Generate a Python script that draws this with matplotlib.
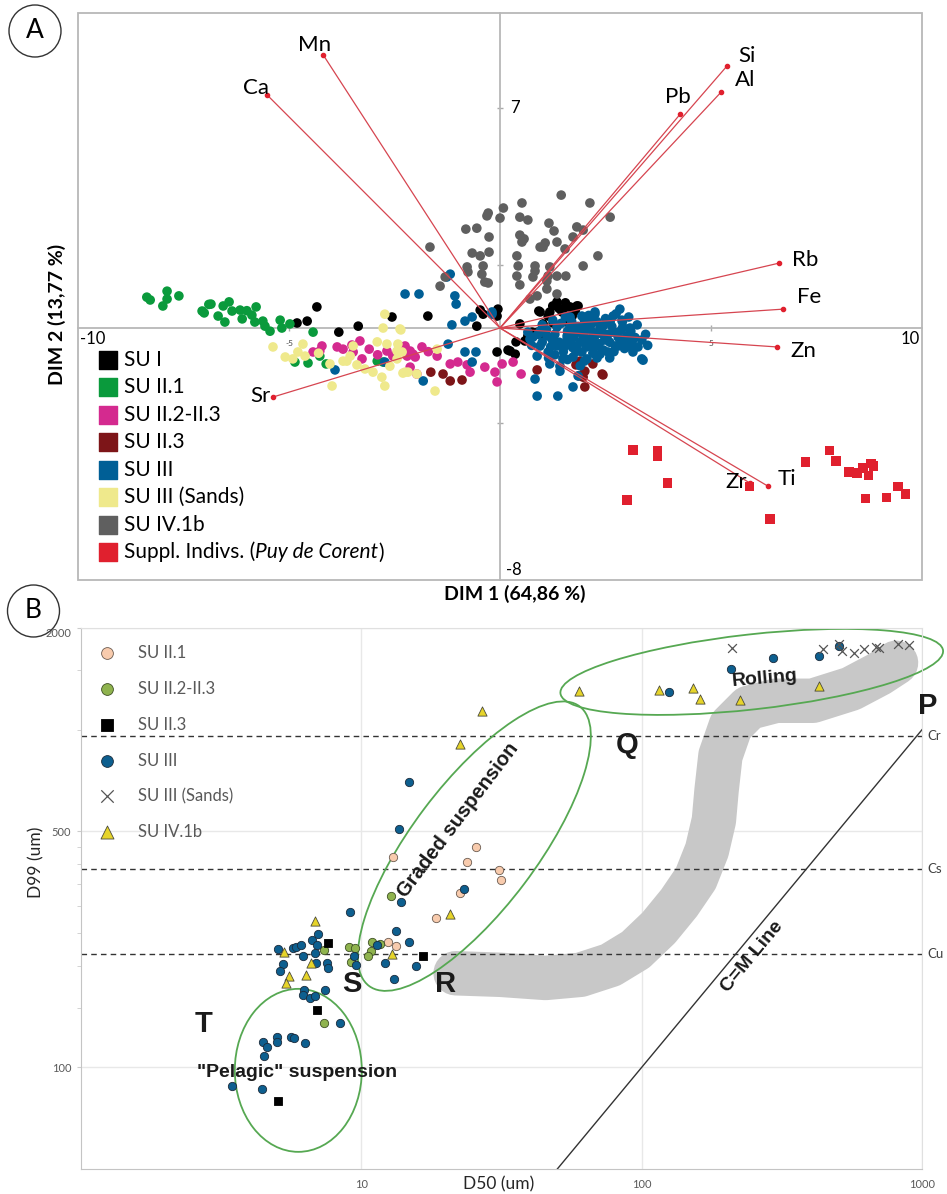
import numpy as np
import matplotlib
matplotlib.use("Agg")
import matplotlib.pyplot as plt
import matplotlib.transforms as mtransforms
from matplotlib.patches import Ellipse, Circle, Rectangle
from matplotlib.ticker import FixedLocator, NullFormatter, NullLocator

plt.rcParams['font.family'] = ['Lato', 'DejaVu Sans']

# ---------------- Panel A: PCA biplot (DIM 1 / DIM 2) ----------------
su1_pts = [(-1.71, 0.38), (-0.47, 0.57), (-0.40, 0.44), (-0.05, 0.60), (-0.07, 0.38), (-0.55, 0.06),
           (0.92, 0.54), (1.35, 0.83), (1.59, 0.67), (1.82, 0.70), (1.47, 0.51), (1.71, 0.38),
           (1.14, 0.38), (1.02, 0.13), (1.26, 0.16), (0.47, 0.13), (0.90, -0.13), (0.66, -0.25),
           (1.02, -0.19), (0.59, -0.41), (0.38, -0.44), (-0.07, -0.76), (0.19, -0.70), (0.36, -0.83),
           (1.61, 0.35), (1.78, 0.54), (1.59, 0.19), (-4.34, 0.67), (-4.57, 0.22), (-4.81, 0.16),
           (-3.82, -0.13), (-3.36, 0.06), (-2.56, 0.35), (0.24, -0.73), (0.76, -0.13), (1.66, 0.67),
           (1.85, 0.70), (1.18, 0.51), (0.95, 0.51), (1.40, 0.62), (1.55, 0.80), (1.25, 0.70)]
su21_pts = [(-8.37, 0.98), (-8.29, 0.89), (-7.89, 1.17), (-7.89, 0.92), (-7.61, 1.02), (-7.99, 0.70),
            (-7.06, 0.54), (-7.01, 0.48), (-6.85, 0.76), (-6.68, 0.38), (-6.56, 0.70), (-6.42, 0.83),
            (-6.35, 0.54), (-6.52, 0.19), (-6.16, 0.57), (-6.11, 0.29), (-5.88, 0.41), (-5.78, 0.67),
            (-5.81, 0.19), (-5.62, 0.22), (-5.57, 0.06), (-5.45, -0.10), (-5.21, 0.25), (-5.17, 0.0),
            (-4.98, 0.13), (-4.43, -0.13), (-4.86, -1.08), (-4.55, -1.11), (-4.27, -0.89),
            (-4.12, -1.14), (-2.91, -1.05), (-2.77, -1.08), (-6.90, 0.75), (-6.00, 0.55)]
su22_pts = [(-4.43, -0.76), (-4.22, -0.57), (-4.27, -0.73), (-3.86, -0.60), (-3.72, -0.67),
            (-3.51, -0.54), (-3.32, -0.41), (-3.48, -0.76), (-3.10, -0.67), (-2.68, -0.73),
            (-2.54, -0.89), (-2.25, -0.57), (-2.13, -0.73), (-2.06, -0.83), (-1.85, -0.60),
            (-2.13, -1.24), (-1.97, -1.46), (-3.27, -0.98), (-1.49, -0.89), (-1.18, -1.14),
            (-1.00, -1.08), (-0.71, -1.40), (-0.78, -1.17), (-2.20, -0.89), (-2.01, -0.92),
            (-0.36, -1.24), (-0.12, -1.40), (-0.07, -1.71), (0.05, -1.14), (0.31, -1.08),
            (0.50, -1.46), (-2.90, -0.85), (-1.70, -0.75)]
su23_pts = [(-1.64, -1.40), (-1.35, -1.46), (-1.18, -1.68), (-0.90, -1.65), (0.88, -1.33),
            (2.01, -1.37), (1.97, -1.56), (2.42, -1.46), (2.01, -1.87), (1.90, -1.05),
            (1.80, -1.17), (2.20, -1.14), (2.44, -1.49), (1.87, -1.52)]
su3_pts = [(-2.25, 1.08), (-1.92, 1.08), (-3.91, -1.33), (-2.73, -1.08), (-1.82, -1.68), (-1.18, 1.71),
           (-1.26, 1.62), (-1.07, 1.02), (-1.04, 0.76), (-1.14, 0.10), (-0.83, 0.22), (-0.66, 0.35),
           (-0.19, 0.44), (-1.23, -0.51), (-0.83, -0.76), (-0.57, -0.76), (-0.66, -1.08), (-0.19, 0.51),
           (2.25, 0.51), (2.84, 0.60), (2.01, 0.32), (2.89, 0.25), (3.08, 0.0), (3.36, -0.38),
           (3.39, -1.02), (3.13, -0.63), (0.88, -2.16), (1.37, -2.16), (1.73, -1.87), (0.83, -1.62),
           (1.18, -1.14), (1.42, -1.37), (1.85, -1.52), (0.71, -0.35), (0.95, -0.10), (1.59, -0.35),
           (1.26, -0.44), (0.66, -0.13), (0.78, -0.29), (0.95, -0.57), (1.23, -0.35), (1.35, -0.57),
           (1.49, -0.98), (1.59, -0.25), (1.66, 0.06), (1.82, -0.57), (1.97, -0.35), (2.01, 0.06),
           (2.20, -0.13), (2.30, -0.57), (2.44, 0.06), (2.54, -0.35), (2.68, -0.13), (2.80, -0.57),
           (2.91, 0.03), (3.15, -0.76), (3.36, -0.98), (1.94, -0.76), (1.73, -0.92), (2.06, -0.98),
           (2.37, -0.83), (2.56, -0.76), (1.66, 0.35), (1.94, 0.38), (2.25, 0.44), (2.61, 0.19),
           (1.35, 0.03), (1.11, -0.25), (1.14, -0.76), (1.42, -1.21), (2.18, 0.29), (2.42, -0.19),
           (2.80, -0.29), (3.13, -0.44), (3.27, -0.60), (2.18, -0.41), (1.54, -0.57), (1.78, -0.13),
           (2.01, -0.10), (2.37, 0.03), (2.73, -0.57), (0.88, -0.89), (2.68, 0.38),
           (0.90, -0.20), (1.00, -0.45), (1.10, -0.05), (1.20, -0.60), (1.30, -0.20), (1.40, -0.45),
           (1.45, 0.15), (1.50, -0.75), (1.60, -0.10), (1.65, -0.50), (1.70, 0.20), (1.75, -0.30),
           (1.80, -0.75), (1.85, 0.05), (1.90, -0.45), (1.95, -0.20), (2.00, 0.25), (2.05, -0.60),
           (2.10, -0.35), (2.15, 0.10), (2.20, -0.80), (2.25, -0.25), (2.30, 0.20), (2.35, -0.50),
           (2.40, -0.05), (2.45, -0.70), (2.50, 0.30), (2.55, -0.20), (2.60, -0.45), (2.65, 0.05),
           (2.70, -0.75), (2.75, -0.15), (2.85, -0.45), (2.90, 0.20), (2.95, -0.65), (3.00, -0.25),
           (3.05, 0.35), (3.10, -0.10), (3.20, -0.30), (3.25, 0.10), (1.30, -0.85), (1.60, -1.00),
           (2.00, -1.05), (2.30, -0.95), (1.00, 0.10), (0.75, -0.55), (1.25, 0.25), (2.60, -0.95),
           (3.45, -0.20), (3.50, -0.55), (1.55, 0.35), (2.10, 0.40), (2.75, 0.45), (1.90, -1.20),
           (1.15, -0.95), (2.48, -0.38), (2.22, -0.62), (1.72, -0.62), (2.88, -0.05), (3.02, -0.48)]
su3s_pts = [(-5.38, -0.60), (-5.09, -0.92), (-4.91, -0.98), (-4.67, -0.51), (-4.79, -0.76),
            (-4.62, -0.89), (-4.03, -1.14), (-3.72, -1.05), (-3.55, -0.89), (-3.39, -1.17),
            (-2.91, -0.44), (-2.73, 0.44), (-2.77, 0.0), (-2.68, -0.51), (-2.44, -0.73),
            (-2.35, -0.06), (-2.44, -0.98), (-2.61, -1.21), (-3.01, -1.40), (-2.80, -1.56),
            (-2.30, -1.43), (-2.18, -1.40), (-3.98, -1.84), (-2.73, -1.84), (-1.97, -1.46),
            (-1.54, -2.00), (-2.37, -0.03), (-3.63, -1.05), (-3.48, -0.57), (-2.42, -0.51),
            (-2.32, -0.76), (-2.25, -1.40), (-1.49, -0.67), (-4.30, -0.80), (-3.20, -1.30)]
su4_pts = [(1.45, 4.22), (0.52, 3.97), (2.13, 3.97), (0.08, 3.81), (-0.28, 3.65), (-0.31, 3.56),
           (0.0, 3.49), (0.47, 3.52), (0.66, 3.43), (1.16, 3.33), (2.61, 3.52), (-0.81, 3.14),
           (-0.55, 3.17), (1.28, 3.08), (1.82, 3.21), (1.97, 3.11), (-0.26, 2.89), (0.47, 2.95),
           (0.57, 2.83), (0.52, 2.73), (1.35, 2.73), (1.73, 2.89), (1.07, 2.70), (0.95, 2.57),
           (1.02, 2.57), (1.54, 2.51), (-1.66, 2.57), (-0.66, 2.38), (-0.47, 2.29), (-0.26, 2.41),
           (0.40, 2.29), (2.32, 2.29), (-0.78, 1.94), (-0.76, 1.78), (-0.40, 1.97), (0.43, 1.97),
           (0.83, 1.97), (0.83, 1.81), (1.18, 1.94), (1.97, 1.97), (-0.43, 1.71), (0.40, 1.65),
           (0.78, 1.62), (1.14, 1.65), (1.35, 1.65), (1.56, 1.65), (-0.36, 1.46), (-0.28, 1.43),
           (0.47, 1.37), (1.11, 1.49), (-1.42, 1.33), (-1.30, 1.62), (1.11, 1.24), (0.88, 1.02),
           (1.35, 1.08), (0.71, 0.92)]
suppl_pts = [(3.15, -3.87), (3.74, -3.90), (3.74, -4.06), (3.96, -4.92), (3.01, -5.46), (5.92, -5.02),
             (6.40, -6.06), (7.23, -4.25), (7.80, -3.90), (7.96, -4.22), (8.27, -4.57), (8.46, -4.60),
             (8.60, -4.44), (8.79, -4.29), (8.74, -4.67), (8.86, -4.38), (8.67, -5.40), (9.15, -5.37),
             (9.43, -5.02), (9.60, -5.27)]

elem_names = ['Mn', 'Ca', 'Si', 'Al', 'Pb', 'Rb', 'Fe', 'Zn', 'Ti', 'Zr', 'Sr']
elem_x = [-4.19, -5.52, 5.38, 5.24, 4.27, 6.61, 6.71, 6.56, 6.35, 5.92, -5.38]
elem_y = [8.67, 7.40, 8.32, 7.49, 6.79, 2.06, 0.60, -0.60, -5.02, -4.92, -2.19]
# label offsets (points) from each arrow tip
elem_off = [(-6, 7), (-8, 5), (14, 7), (17, 9), (-2, 12), (19, 2), (19, 9), (19, -3), (14, 5), (-10, 1), (-9, 1)]

groupsA = [
    ('SU I', su1_pts, '#000000'),
    ('SU II.1', su21_pts, '#0a9a3c'),
    ('SU II.2-II.3', su22_pts, '#d42a8f'),
    ('SU II.3', su23_pts, '#7d1518'),
    ('SU III', su3_pts, '#005f96'),
    ('SU III (Sands)', su3s_pts, '#efe98c'),
    ('SU IV.1b', su4_pts, '#5f5f5f'),
]

# ---------------- Panel B: C-M diagram (D50 / D99) ----------------
b_su21 = [(13.0, 419), (25.7, 449), (23.9, 405), (30.9, 384), (31.4, 359), (22.4, 328),
          (18.5, 277), (12.4, 235), (13.3, 229)]
b_su22 = [(7.38, 223), (9.06, 228), (9.52, 226), (9.21, 205), (10.9, 235), (11.7, 232),
          (10.8, 221), (10.6, 214), (12.8, 322), (7.38, 135)]
b_su23 = [(7.62, 234), (6.97, 148), (5.05, 79.4), (16.6, 213)]
b_su3 = [(9.14, 289), (5.05, 224), (5.72, 226), (5.86, 228), (6.11, 231), (6.68, 239), (7.02, 248),
         (6.97, 231), (6.85, 218), (6.21, 213), (5.27, 203), (5.14, 193), (6.91, 204), (7.56, 204),
         (7.62, 197), (9.44, 213), (9.60, 201), (7.44, 170), (6.26, 170), (6.21, 164), (6.57, 161),
         (6.85, 163), (8.41, 135), (4.47, 119), (4.62, 115), (5.01, 123), (5.01, 119), (5.62, 123),
         (5.76, 122), (6.31, 118), (4.50, 108), (3.46, 87.9), (4.43, 86.1), (11.4, 231), (12.1, 204),
         (13.3, 254), (14.8, 235), (13.1, 183), (13.8, 309), (15.7, 200), (23.3, 337), (14.8, 702),
         (13.6, 507), (125, 1294), (208, 1513), (294, 1631), (429, 1653), (505, 1769)]
b_su3s = [(210, 1746), (443, 1734), (505, 1793), (518, 1710), (572, 1687), (621, 1734),
          (685, 1757), (702, 1746), (821, 1793), (899, 1781)]
b_su4 = [(27.0, 1138), (22.4, 909), (20.8, 285), (6.85, 271), (5.31, 220), (6.63, 204),
         (5.53, 186), (6.36, 188), (5.40, 178), (12.9, 217), (60.0, 1303), (115, 1312),
         (152, 1330), (162, 1234), (224, 1226), (429, 1348)]

# C-M pattern band (centre line) and limits
band_d50 = [21.7, 31.4, 45.4, 60.5, 77.5, 95.2, 115, 136, 156, 171, 181, 185, 191, 208, 241, 301, 408, 558, 702, 808]
band_d99 = [190, 188, 184, 188, 201, 223, 259, 307, 363, 440, 539, 661, 838, 1027, 1161, 1218, 1218, 1322, 1462, 1578]
c_limits = [('Cr', 960), ('Cs', 386), ('Cu', 217)]
cm_line = [50, 1000]

fig = plt.figure(figsize=(9.47, 11.94), dpi=100)

# ======== Panel A ========
axA = fig.add_axes([0.0824, 0.5142, 0.8912, 0.4749])
axA.set_xlim(-10, 10)
axA.set_ylim(-8, 10)
axA.spines['left'].set_position(('data', 0))
axA.spines['bottom'].set_position(('data', 0))
axA.spines['top'].set_visible(False)
axA.spines['right'].set_visible(False)
for s in ['left', 'bottom']:
    axA.spines[s].set_color('#b8b8b8')
    axA.spines[s].set_linewidth(1.3)
axA.add_patch(Rectangle((0, 0), 1, 1, transform=axA.transAxes, fill=False,
                        edgecolor='#b8b8b8', lw=1.3, clip_on=False))
axA.set_xticks([-5, 5])
axA.set_xticklabels(['-5', '5'], fontsize=6, color='#444444')
axA.set_yticks([-3, 2, 7])
axA.set_yticklabels([])
axA.tick_params(direction='inout', length=5, color='#aaaaaa', width=1)
axA.tick_params(axis='x', pad=6)

axA.text(-9.95, -0.35, '-10', ha='left', va='center', fontsize=12)
axA.text(9.95, -0.35, '10', ha='right', va='center', fontsize=12)
axA.text(0.25, 7, '7', ha='left', va='center', fontsize=12)
axA.text(0.15, -7.68, '-8', ha='left', va='center', fontsize=12)

for name, pts, col in groupsA:
    arr = np.array(pts)
    axA.scatter(arr[:, 0], arr[:, 1], s=48, color=col, edgecolors='none', zorder=3)

for x, y in zip(elem_x, elem_y):
    axA.plot([0, x], [0, y], color='#d64550', lw=0.9, zorder=4)
axA.scatter(elem_x, elem_y, s=9, color='#e0202e', zorder=4)
for name, x, y, off in zip(elem_names, elem_x, elem_y, elem_off):
    axA.annotate(name, (x, y), xytext=off, textcoords='offset points',
                 ha='center', va='center', fontsize=16, zorder=5)

arr = np.array(suppl_pts)
axA.scatter(arr[:, 0], arr[:, 1], s=44, marker='s', color='#e0202e', edgecolors='none', zorder=6)

# legend A
legA = [(n, c) for n, _, c in groupsA] + [('Suppl. Indivs. (', '#e0202e')]
for i, (name, col) in enumerate(legA):
    yy = 0.388 - i * 0.0484
    axA.scatter([0.0355], [yy], s=150, marker='s', color=col, transform=axA.transAxes,
                clip_on=False, zorder=7)
    t = axA.text(0.0545, yy, name, transform=axA.transAxes, ha='left', va='center',
                 fontsize=15, zorder=7)
t2 = axA.annotate('Puy de Corent', xy=(1, 0), xycoords=t, ha='left', va='bottom',
                  fontsize=15, style='italic', zorder=7)
axA.annotate(')', xy=(1, 0), xycoords=t2, ha='left', va='bottom', fontsize=15, zorder=7)

fig.text(57 / 947, 1 - 314 / 1194, 'DIM 2 (13,77 %)', rotation=90, ha='center', va='center',
         fontsize=14, fontweight='bold')
fig.text(515 / 947, 1 - 594 / 1194, 'DIM 1 (64,86 %)', ha='center', va='center',
         fontsize=14, fontweight='bold')

# ======== Panel B ========
axB = fig.add_axes([0.0855, 0.0209, 0.8881, 0.4531])
axB.set_xscale('log')
axB.set_yscale('log')
axB.set_xlim(1, 1000)
axB.set_ylim(50, 2000)
axB.set_xticks([10, 100, 1000])
axB.set_xticklabels(['10', '100', '1000'])
axB.set_yticks([100, 500, 2000])
axB.set_yticklabels(['100', '500', '2000'])
axB.xaxis.set_minor_locator(NullLocator())
axB.yaxis.set_minor_locator(FixedLocator([150, 200, 250, 300, 350, 400, 450, 1000, 1500]))
axB.yaxis.set_minor_formatter(NullFormatter())
axB.tick_params(axis='x', which='both', length=0, pad=7, labelsize=8, labelcolor='#595959')
axB.tick_params(axis='y', which='both', length=3, color='#cccccc', labelsize=8,
                labelcolor='#595959', pad=4)
axB.get_yticklabels()[-1].set_va('top')
axB.grid(True, which='major', color='#e8e8e8', lw=1)
axB.set_axisbelow(True)
for s in axB.spines.values():
    s.set_color('#e0e0e0')
for s in ['left', 'bottom']:
    axB.spines[s].set_color('#c4c4c4')

axB.plot(band_d50, band_d99, color='#c8c8c8', lw=32, solid_capstyle='round',
         solid_joinstyle='round', zorder=1)

for name, val in c_limits:
    axB.axhline(val, color='#333333', lw=1, ls=(0, (4, 3)), zorder=2)
    axB.text(1.006, val, name, transform=axB.get_yaxis_transform(), ha='left', va='center',
             fontsize=9.5, color='#404040')

axB.plot(cm_line, cm_line, color='#333333', lw=1, zorder=2)


def ring(ax, cx, cy, w, h, ang):
    tr = fig.dpi_scale_trans + mtransforms.ScaledTranslation(cx, cy, ax.transData)
    e = Ellipse((0, 0), w, h, angle=ang, transform=tr, fill=False,
                edgecolor='#56a852', lw=1.3, zorder=2, clip_on=False)
    ax.add_artist(e)


ring(axB, 5.96, 98, 1.27, 1.63, 0)
ring(axB, 25.3, 452, 3.5, 1.25, 53)
ring(axB, 247, 1483, 3.85, 0.75, 6.4)

groupsB = [
    ('SU II.1', b_su21, dict(marker='o', facecolor='#f8cbad', edgecolor='#6b5b50', s=36, linewidths=0.6)),
    ('SU II.2-II.3', b_su22, dict(marker='o', facecolor='#8fb34e', edgecolor='#3e4f24', s=36, linewidths=0.6)),
    ('SU II.3', b_su23, dict(marker='s', facecolor='#000000', edgecolor='#000000', s=32, linewidths=0.6)),
    ('SU III', b_su3, dict(marker='o', facecolor='#0d5f8f', edgecolor='#1b2b3b', s=36, linewidths=0.6)),
    ('SU III (Sands)', b_su3s, dict(marker='x', color='#555555', s=40, linewidths=0.9)),
    ('SU IV.1b', b_su4, dict(marker='^', facecolor='#e6d42a', edgecolor='#4a4a3a', s=44, linewidths=0.6)),
]
for name, pts, kw in groupsB:
    arr = np.array(pts)
    axB.scatter(arr[:, 0], arr[:, 1], zorder=3, **kw)

for i, (name, pts, kw) in enumerate(groupsB):
    yy = 0.954 - i * 0.0663
    kw2 = dict(kw)
    kw2['s'] = kw['s'] * 2.0
    axB.scatter([0.031], [yy], transform=axB.transAxes, clip_on=False, zorder=4, **kw2)
    axB.text(0.068, yy, name, transform=axB.transAxes, ha='left', va='center',
             fontsize=12, color='#595959')

bold = dict(fontweight='bold', family=['Liberation Sans', 'DejaVu Sans'], color='#1a1a1a')
for lab, x, y in [('T', 2.73, 134), ('S', 9.29, 177), ('R', 19.9, 177), ('Q', 89.1, 898), ('P', 1050, 1178)]:
    axB.text(x, y, lab, ha='center', va='center', fontsize=21, clip_on=False, **bold)
axB.text(5.91, 96.6, '"Pelagic" suspension', ha='center', va='center', fontsize=14, **bold)
axB.text(22.2, 539, 'Graded suspension', ha='center', va='center', fontsize=14.5, rotation=53, **bold)
axB.text(275, 1413, 'Rolling', ha='center', va='center', fontsize=14, rotation=5, **bold)
p1 = axB.transData.transform((100, 100))
p2 = axB.transData.transform((1000, 1000))
cm_ang = np.degrees(np.arctan2(p2[1] - p1[1], p2[0] - p1[0]))
axB.text(249, 212, 'C=M Line', ha='center', va='center', fontsize=14, rotation=cm_ang, **bold)

fig.text(36 / 947, 1 - 862 / 1194, 'D99 (um)', rotation=90, ha='center', va='center',
         fontsize=12.5, color='#262626')
fig.text(499 / 947, 1 - 1184 / 1194, 'D50 (um)', ha='center', va='center',
         fontsize=12.5, color='#262626')

# panel letters
for lab, cx, cy in [('A', 0.35, 11.63), ('B', 0.335, 5.83)]:
    fig.add_artist(Circle((cx, cy), 0.26, transform=fig.dpi_scale_trans, fill=False,
                          edgecolor='#333333', lw=1))
    fig.text(cx, cy, lab, transform=fig.dpi_scale_trans, ha='center', va='center', fontsize=19)

fig.savefig('out.png', dpi=100)
